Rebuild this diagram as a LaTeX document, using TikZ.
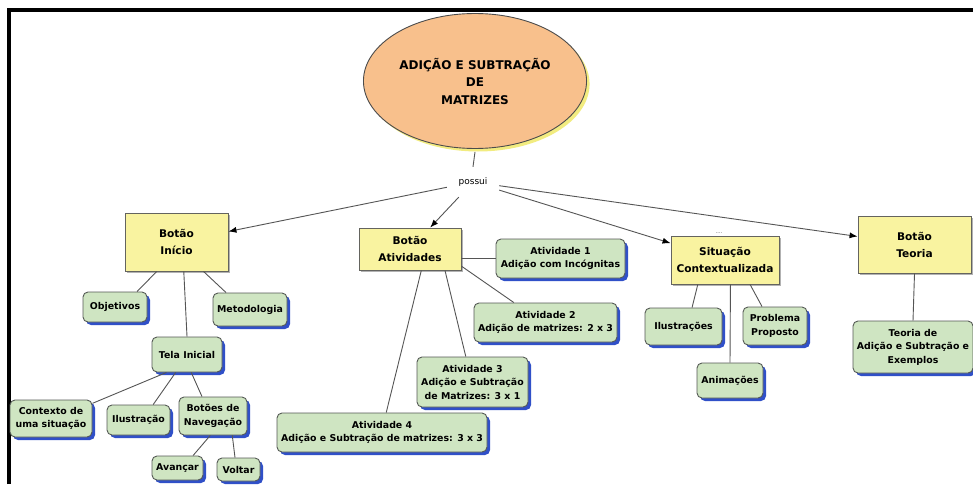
\documentclass[tikz,border=0pt]{standalone}
\usepackage{fontspec}
\setmainfont{DejaVu Sans}
\usetikzlibrary{shapes.geometric,shadows,arrows.meta,calc}
\definecolor{ellfill}{RGB}{248,192,140}
\definecolor{ellshadow}{RGB}{242,236,128}
\definecolor{yfill}{RGB}{249,243,160}
\definecolor{ybord}{RGB}{100,100,95}
\definecolor{gfill}{RGB}{207,229,194}
\definecolor{gbord}{RGB}{85,90,85}
\definecolor{gshadow}{RGB}{48,80,200}
\definecolor{linkc}{RGB}{85,85,85}
\begin{document}
\begin{tikzpicture}[x=1pt,y=-1pt,
  yel/.style={rectangle, fill=yfill, draw=ybord, line width=0.9pt, align=center, inner sep=1pt,
    font=\fontsize{10.6}{17}\selectfont\bfseries,
    drop shadow={shadow xshift=1.5pt, shadow yshift=-1.5pt, fill=gray!60, opacity=1}},
  grn/.style={rectangle, rounded corners=5pt, fill=gfill, draw=gbord, line width=0.9pt, align=center, inner sep=1pt,
    font=\fontsize{9.4}{13.5}\selectfont\bfseries,
    drop shadow={shadow xshift=3pt, shadow yshift=-3pt, fill=gshadow, opacity=1}},
  link/.style={draw=linkc, line width=0.9pt},
  arr/.style={link, -{Latex[length=8pt,width=6pt,color=black]}},
]
\useasboundingbox (0,0) rectangle (973,484);
\fill[white] (0,0) rectangle (973,484);
% frame
\draw[line width=3.5pt, black] (9,484) -- (9,10) -- (973,10);

% central concept
\node[ellipse, minimum width=196pt, minimum height=135pt, fill=ellfill, draw=gray!60!black, line width=0.9pt,
  align=center, font=\fontsize{12}{17.5}\selectfont\bfseries,
  drop shadow={shadow xshift=3pt, shadow yshift=-3pt, fill=ellshadow, opacity=1}]
  (ell) at (475,81) {ADIÇÃO E SUBTRAÇÃO\\DE\\MATRIZES};
\node[minimum width=52pt, minimum height=30pt, inner sep=0pt, font=\fontsize{9}{11}\selectfont] (pos) at (473,182) {possui};

% main buttons
\node[yel, minimum width=103pt, minimum height=58pt] (bi) at (176.5,242) {Botão\\Início};
\node[yel, minimum width=102pt, minimum height=42pt] (ba) at (410,249) {Botão\\Atividades};
\node[yel, minimum width=108pt, minimum height=48pt] (sc) at (725,260) {Situação\\Contextualizada};
\node[yel, minimum width=113pt, minimum height=57pt] (bt) at (914.5,244.5) {Botão\\Teoria};
\node[font=\fontsize{5}{6}\selectfont, text=gray!50!black, inner sep=0pt] (dots) at (719,233) {....};

% Inicio children
\node[grn, minimum width=64pt, minimum height=30pt] (obj) at (115,307) {Objetivos};
\node[grn, minimum width=74pt, minimum height=33pt] (met) at (250,309.5) {Metodologia};
\node[grn, minimum width=70pt, minimum height=35pt] (tela) at (187,354.5) {Tela Inicial};
\node[grn, minimum width=82pt, minimum height=37pt] (ctx) at (51,418.5) {Contexto de\\uma situação};
\node[grn, minimum width=63pt, minimum height=30pt] (ilu) at (138.5,420) {Ilustração};
\node[grn, minimum width=68pt, minimum height=38pt] (bnav) at (213,416) {Botões de\\Navegação};
\node[grn, minimum width=51pt, minimum height=24pt] (ava) at (177.5,468) {Avançar};
\node[grn, minimum width=43pt, minimum height=23pt] (vol) at (238.5,469.5) {Voltar};

% Atividades children
\node[grn, minimum width=129pt, minimum height=39pt] (a1) at (560.5,258.5) {Atividade 1\\Adição com Incógnitas};
\node[grn, minimum width=143pt, minimum height=39pt] (a2) at (545.5,322.5) {Atividade 2\\Adição de matrizes: 2 x 3};
\node[grn, minimum width=111pt, minimum height=50pt] (a3) at (472.5,382) {Atividade 3\\Adição e Subtração\\de Matrizes: 3 x 1};
\node[grn, minimum width=210pt, minimum height=39pt] (a4) at (382,432.5) {Atividade 4\\Adição e Subtração de matrizes: 3 x 3};

% Situacao children
\node[grn, minimum width=77pt, minimum height=37pt] (ilus) at (683.5,326.5) {Ilustrações};
\node[grn, minimum width=64pt, minimum height=38pt] (prob) at (775,326) {Problema\\Proposto};
\node[grn, minimum width=66pt, minimum height=35pt] (anim) at (730,380.5) {Animações};

% Teoria child
\node[grn, minimum width=120pt, minimum height=52pt] (teo) at (913,347) {Teoria de\\Adição e Subtração e\\Exemplos};

% connectors from central concept
\draw[link] ([yshift=-3pt]ell.south) -- (pos.north);
\draw[arr] (pos) -- (bi);
\draw[arr] (pos) -- (ba);
\draw[arr] (pos) -- (sc);
\draw[arr] (pos) -- (bt);

% Inicio links
\draw[link] ($(bi.south west)!0.31!(bi.south east)$) -- ($(obj.north west)!0.84!(obj.north east)$);
\draw[link] ($(bi.south west)!0.76!(bi.south east)$) -- ($(met.north west)!0.18!(met.north east)$);
\draw[link] ($(bi.south west)!0.57!(bi.south east)$) -- ($(tela.north west)!0.5!(tela.north east)$);
\draw[link] ($(tela.south west)!0.21!(tela.south east)$) -- ($(ctx.north east)!0.1!(ctx.south east)$);
\draw[link] ($(tela.south west)!0.34!(tela.south east)$) -- ($(ilu.north west)!0.73!(ilu.north east)$);
\draw[link] ($(tela.south west)!0.56!(tela.south east)$) -- ($(bnav.north west)!0.34!(bnav.north east)$);
\draw[link] ($(bnav.south west)!0.46!(bnav.south east)$) -- ($(ava.north west)!0.8!(ava.north east)$);
\draw[link] ($(bnav.south west)!0.78!(bnav.south east)$) -- ($(vol.north west)!0.42!(vol.north east)$);

% Atividades links
\draw[link] (a1.west -| ba.east) -- (a1.west);
\draw[link] ($(ba.north east)!0.9!(ba.south east)$) -- ($(a2.north west)!0.28!(a2.north east)$);
\draw[link] ($(ba.south west)!0.84!(ba.south east)$) -- ($(a3.north west)!0.44!(a3.north east)$);
\draw[link] ($(ba.south west)!0.61!(ba.south east)$) -- ($(a4.north west)!0.52!(a4.north east)$);

% Situacao links
\draw[link] ($(sc.south west)!0.25!(sc.south east)$) -- ($(ilus.north west)!0.61!(ilus.north east)$);
\draw[link] ($(sc.south west)!0.55!(sc.south east)$) -- ($(anim.north west)!0.5!(anim.north east)$);
\draw[link] ($(sc.south west)!0.73!(sc.south east)$) -- ($(prob.north west)!0.3!(prob.north east)$);

% Teoria link
\draw[link] (bt.south) -- (teo.north);
\end{tikzpicture}
\end{document}
